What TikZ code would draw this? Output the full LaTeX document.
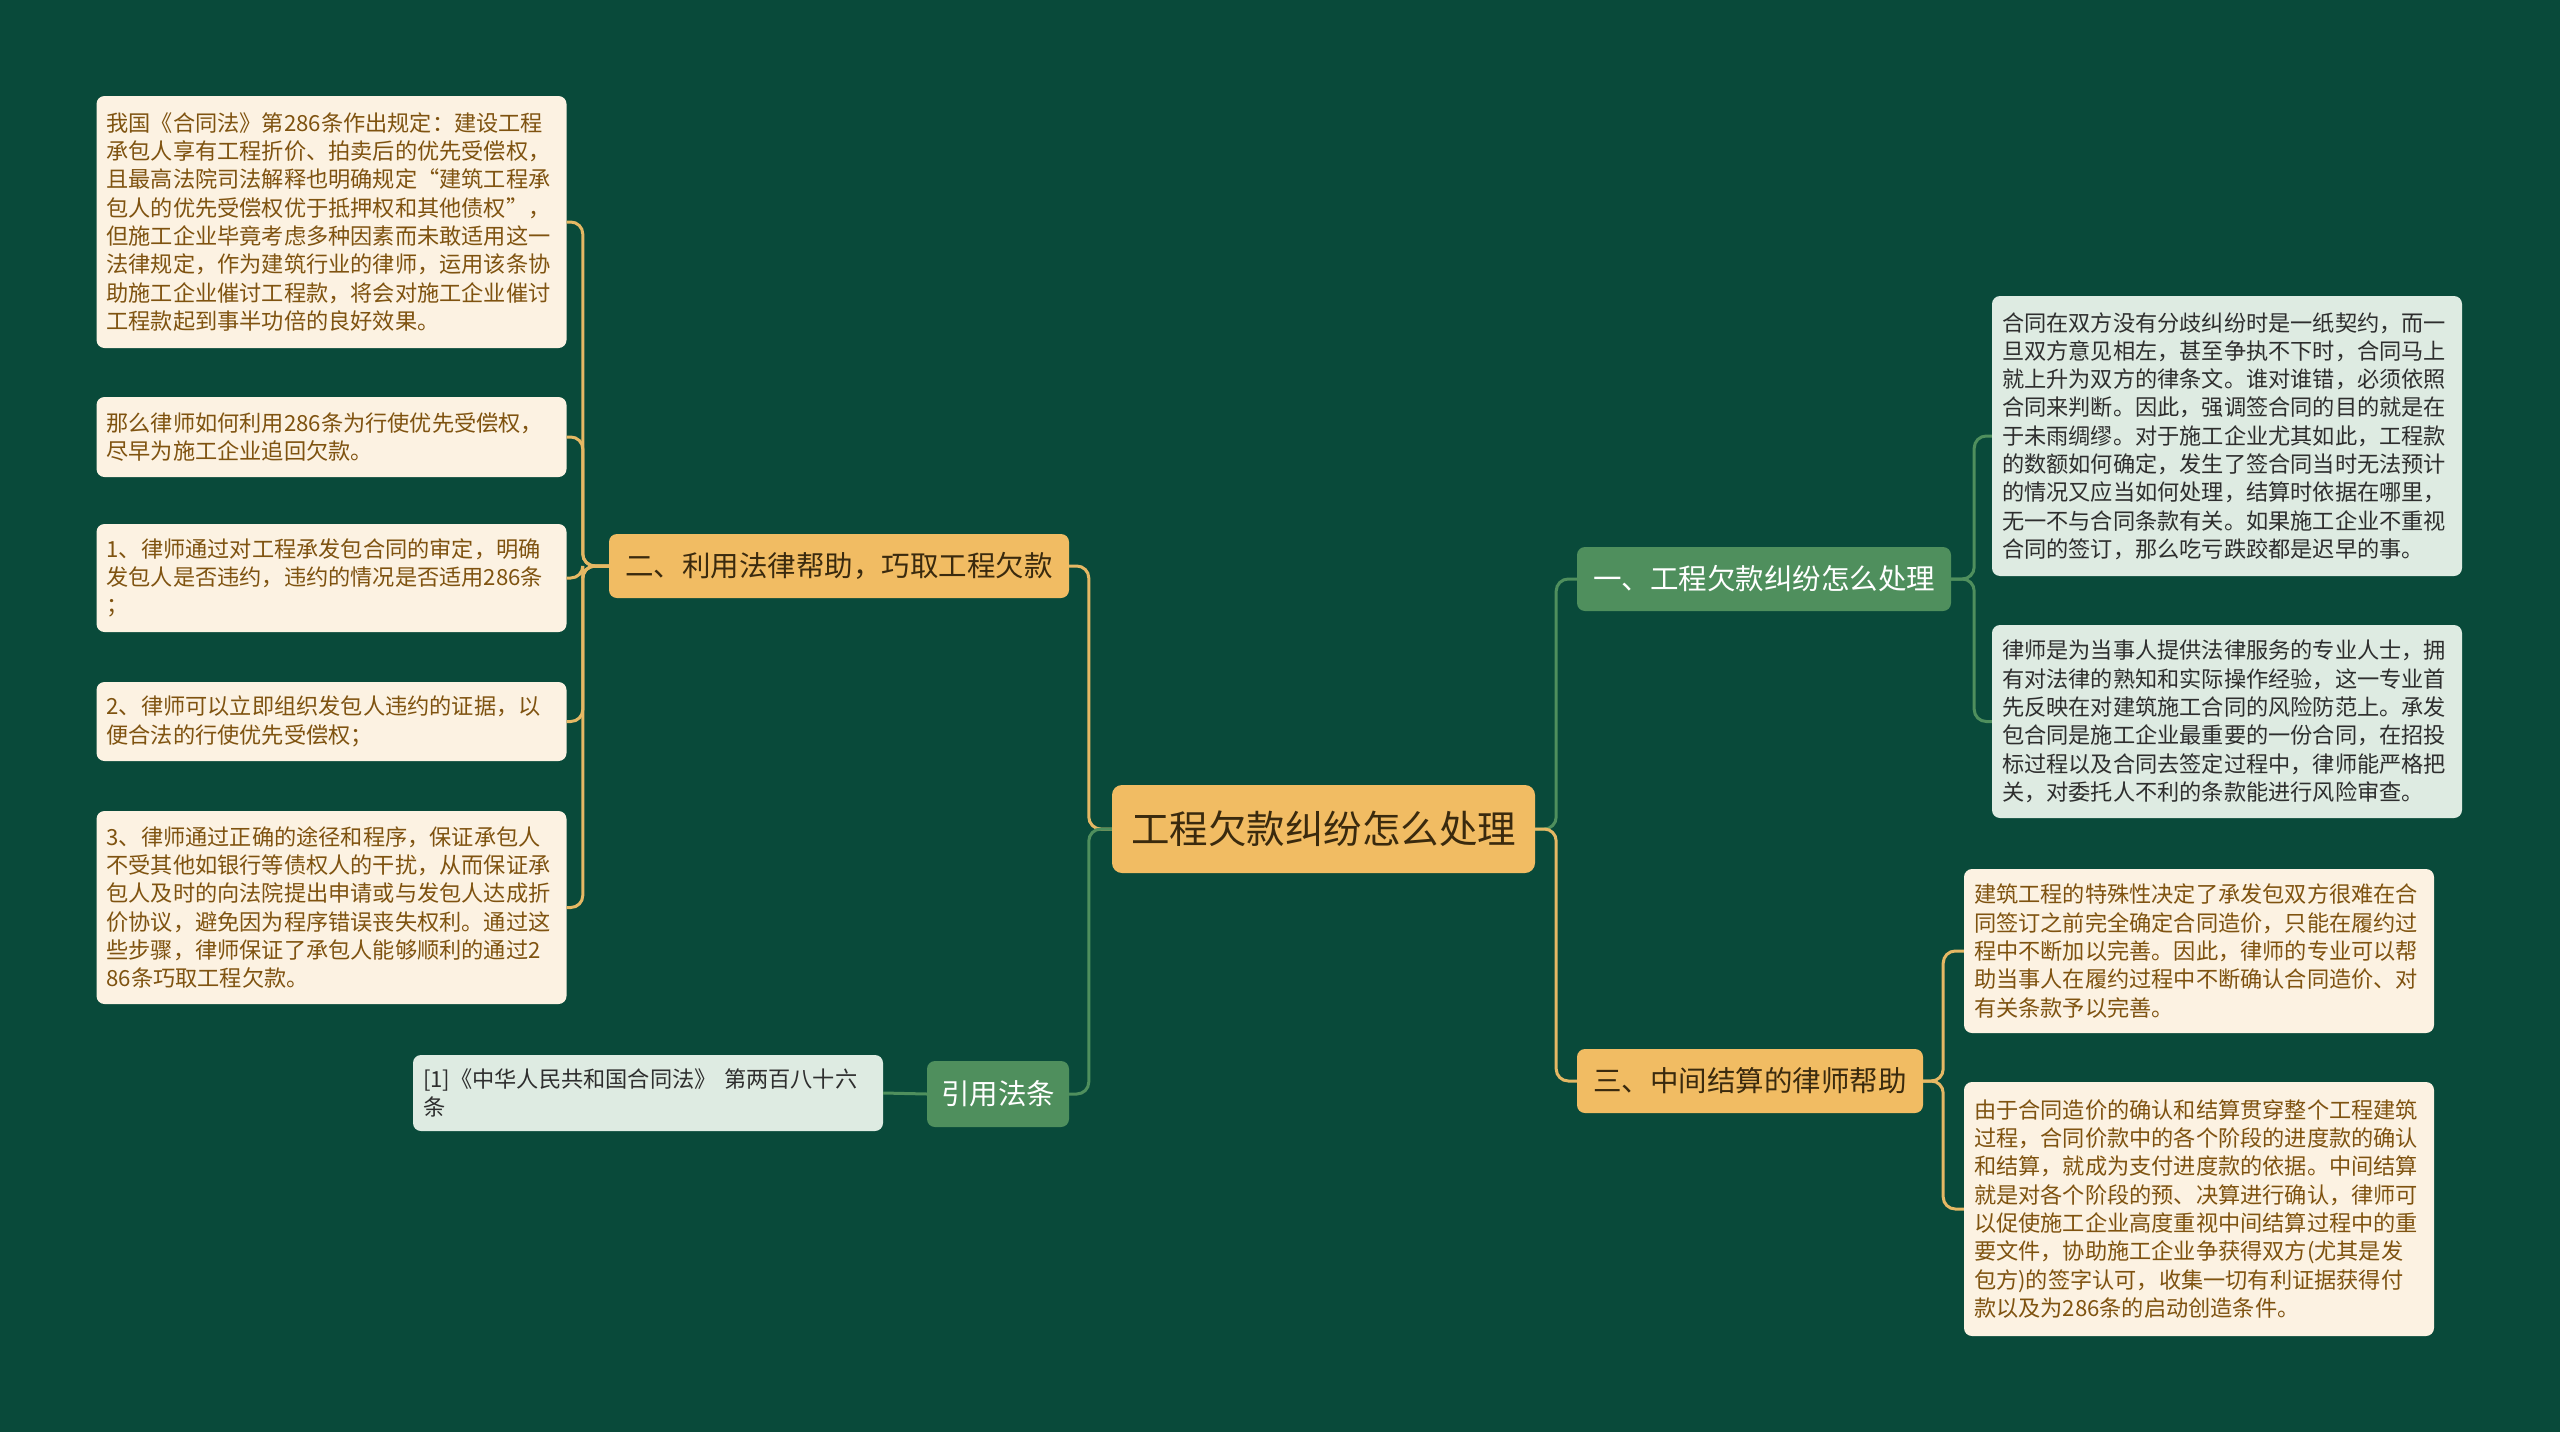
\documentclass[tikz,border=0pt]{standalone}
\usepackage{fontspec}
\newfontfamily\cjk{Noto Sans CJK SC}
\definecolor{bg}{HTML}{094A3A}
\definecolor{orangefill}{HTML}{F1BC63}
\definecolor{greenfill}{HTML}{4F8F5D}
\definecolor{cream}{HTML}{FCF2E2}
\definecolor{palegreen}{HTML}{DEEBE2}
\definecolor{orangeline}{HTML}{E5B864}
\definecolor{greenline}{HTML}{4F8F5D}
\definecolor{browntext}{HTML}{7F5310}
\definecolor{darktext}{HTML}{2E2E2E}
\definecolor{roottext}{HTML}{3A2A0E}
\tikzset{
  leafbase/.style={rounded corners=8pt, text width=450pt, align=left, inner xsep=10pt, inner ysep=6pt,
    font=\cjk\fontsize{22.2}{28.3}\selectfont},
  leafcream/.style={leafbase, fill=cream, text=browntext},
  leafgreen/.style={leafbase, fill=palegreen, text=darktext},
  branchorange/.style={rounded corners=8pt, fill=orangefill, text=roottext, inner sep=0pt,
    font=\cjk\fontsize{28.5}{34}\selectfont},
  branchgreen/.style={rounded corners=8pt, fill=greenfill, text=white, inner sep=0pt,
    font=\cjk\fontsize{28.5}{34}\selectfont},
  rootbox/.style={rounded corners=10pt, fill=orangefill, text=roottext, inner sep=0pt,
    font=\cjk\fontsize{38.5}{44}\selectfont},
  oline/.style={draw=orangeline, line width=3pt, rounded corners=12pt},
  gline/.style={draw=greenline, line width=3pt, rounded corners=12pt}
}
\begin{document}
\begin{tikzpicture}[x=1pt, y=-1pt]
\fill[bg] (0,0) rectangle (2560,1432);
\useasboundingbox (0,0) rectangle (2560,1432);

% root and branches
\node[rootbox, minimum width=423pt, minimum height=88pt] (root) at (1323.5,829) {工程欠款纠纷怎么处理};
\node[branchgreen, minimum width=374pt, minimum height=64pt] (b1) at (1764,579) {一、工程欠款纠纷怎么处理};
\node[branchorange, minimum width=346pt, minimum height=64pt] (b3) at (1750,1081) {三、中间结算的律师帮助};
\node[branchorange, minimum width=460pt, minimum height=64pt] (b2) at (839,566) {二、利用法律帮助，巧取工程欠款};
\node[branchgreen, minimum width=142pt, minimum height=66pt] (b4) at (998,1094) {引用法条};

% left leaves
\node[leafcream, minimum height=252pt] (l1) at (331.5,222) {我国《合同法》第286条作出规定：建设工程\\承包人享有工程折价、拍卖后的优先受偿权，\\且最高法院司法解释也明确规定“建筑工程承\\包人的优先受偿权优于抵押权和其他债权”，\\但施工企业毕竟考虑多种因素而未敢适用这一\\法律规定，作为建筑行业的律师，运用该条协\\助施工企业催讨工程款，将会对施工企业催讨\\工程款起到事半功倍的良好效果。};
\node[leafcream, minimum height=80pt] (l2) at (331.5,437) {那么律师如何利用286条为行使优先受偿权，\\尽早为施工企业追回欠款。};
\node[leafcream, minimum height=108pt] (l3) at (331.5,578) {1、律师通过对工程承发包合同的审定，明确\\发包人是否违约，违约的情况是否适用286条\\；};
\node[leafcream, minimum height=79pt] (l4) at (331.5,721.5) {2、律师可以立即组织发包人违约的证据，以\\便合法的行使优先受偿权；};
\node[leafcream, minimum height=193pt] (l5) at (331.5,907.5) {3、律师通过正确的途径和程序，保证承包人\\不受其他如银行等债权人的干扰，从而保证承\\包人及时的向法院提出申请或与发包人达成折\\价协议，避免因为程序错误丧失权利。通过这\\些步骤，律师保证了承包人能够顺利的通过2\\86条巧取工程欠款。};
\node[leafgreen, minimum height=76pt] (ref) at (648,1093) {[1]《中华人民共和国合同法》 第两百八十六\\条};

% right leaves
\node[leafgreen, minimum height=280pt] (r1) at (2227,436) {合同在双方没有分歧纠纷时是一纸契约，而一\\旦双方意见相左，甚至争执不下时，合同马上\\就上升为双方的律条文。谁对谁错，必须依照\\合同来判断。因此，强调签合同的目的就是在\\于未雨绸缪。对于施工企业尤其如此，工程款\\的数额如何确定，发生了签合同当时无法预计\\的情况又应当如何处理，结算时依据在哪里，\\无一不与合同条款有关。如果施工企业不重视\\合同的签订，那么吃亏跌跤都是迟早的事。};
\node[leafgreen, minimum height=193pt] (r2) at (2227,721.5) {律师是为当事人提供法律服务的专业人士，拥\\有对法律的熟知和实际操作经验，这一专业首\\先反映在对建筑施工合同的风险防范上。承发\\包合同是施工企业最重要的一份合同，在招投\\标过程以及合同去签定过程中，律师能严格把\\关，对委托人不利的条款能进行风险审查。};
\node[leafcream, minimum height=164pt] (r3) at (2199,951) {建筑工程的特殊性决定了承发包双方很难在合\\同签订之前完全确定合同造价，只能在履约过\\程中不断加以完善。因此，律师的专业可以帮\\助当事人在履约过程中不断确认合同造价、对\\有关条款予以完善。};
\node[leafcream, minimum height=254pt] (r4) at (2199,1209) {由于合同造价的确认和结算贯穿整个工程建筑\\过程，合同价款中的各个阶段的进度款的确认\\和结算，就成为支付进度款的依据。中间结算\\就是对各个阶段的预、决算进行确认，律师可\\以促使施工企业高度重视中间结算过程中的重\\要文件，协助施工企业争获得双方(尤其是发\\包方)的签字认可，收集一切有利证据获得付\\款以及为286条的启动创造条件。};

% connectors from root
\draw[gline] (root.east) -- ++(21,0) |- (b1.west);
\draw[oline] (root.east) -- ++(21,0) |- (b3.west);
\draw[oline] (root.west) -- ++(-23,0) |- (b2.east);
\draw[gline] (root.west) -- ++(-23,0) |- (b4.east);

% branch 2 to leaves
\foreach \n in {l1,l2,l3,l4,l5}
  \draw[oline] (b2.west) -- ++(-26,0) |- (\n.east);

% branch 1 to leaves
\foreach \n in {r1,r2}
  \draw[gline] (b1.east) -- ++(23,0) |- (\n.west);

% branch 3 to leaves
\foreach \n in {r3,r4}
  \draw[oline] (b3.east) -- ++(20,0) |- (\n.west);

% citation
\draw[gline] (b4.west) -- (ref.east);
\end{tikzpicture}
\end{document}
